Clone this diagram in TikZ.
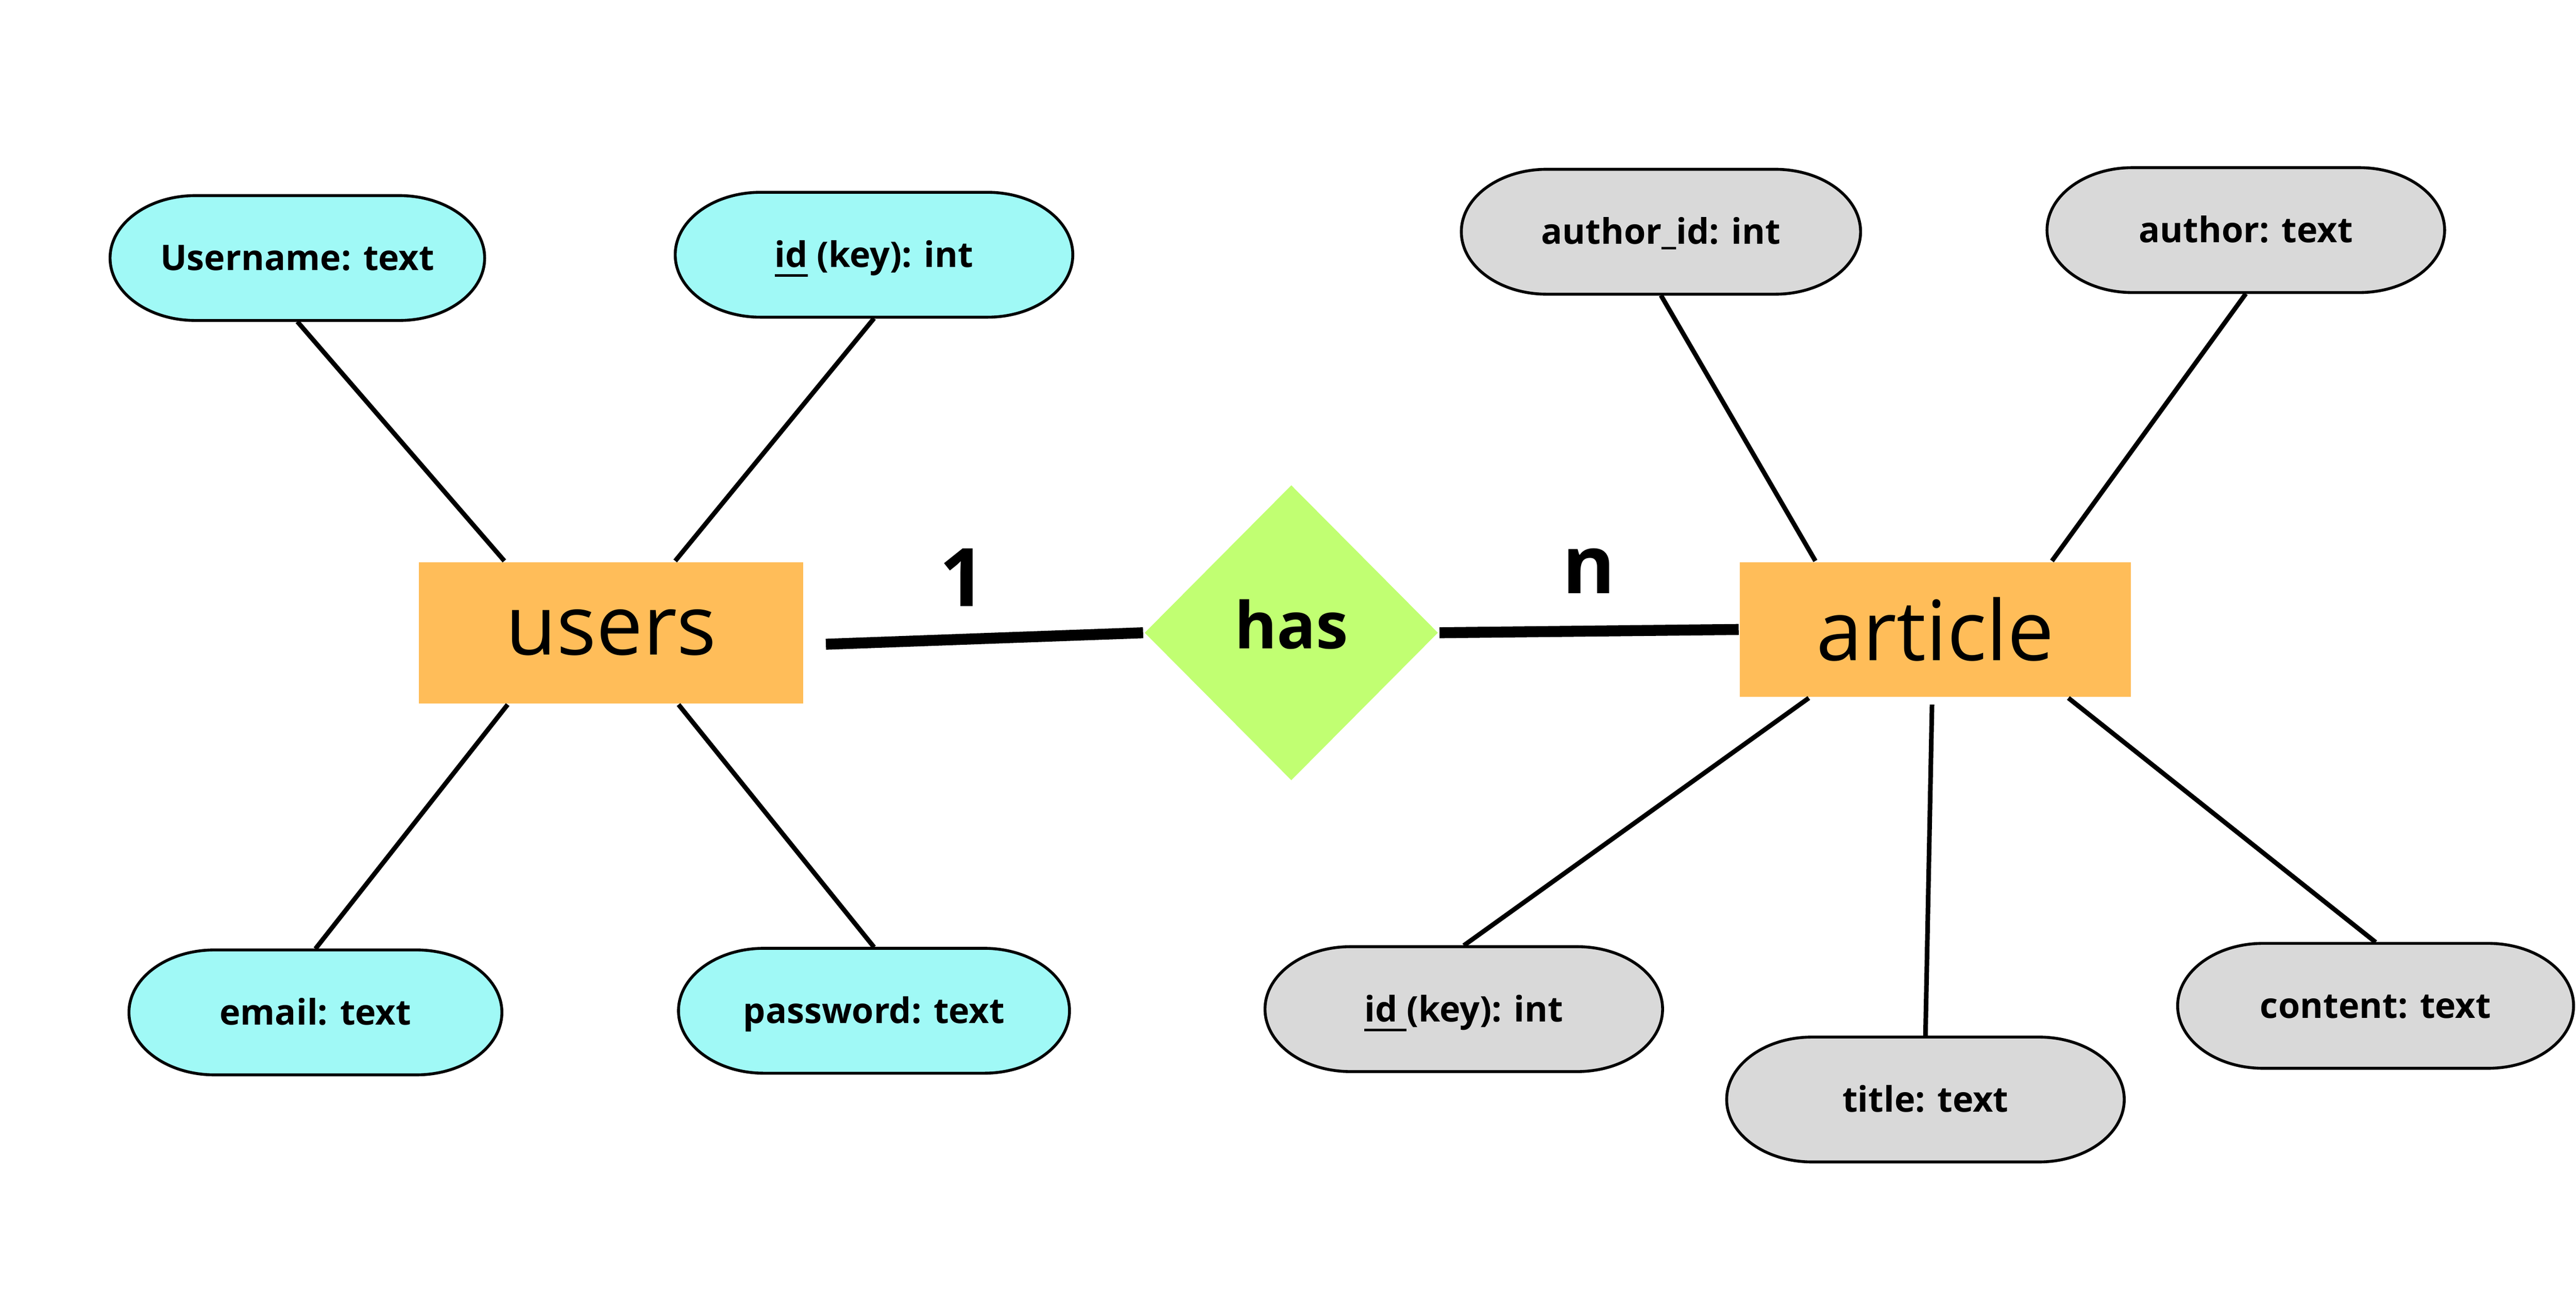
\documentclass[tikz,border=0pt]{standalone}
\usepackage{fontspec}
\setmainfont{Open Sans}
\usepackage{tikz}
\usetikzlibrary{positioning, shapes.geometric, calc}
\definecolor{attrcyan}{HTML}{A0F9F6}
\definecolor{attrgray}{HTML}{D9D9D9}
\definecolor{entorange}{HTML}{FFBD59}
\definecolor{relgreen}{HTML}{C1FF72}
\newcommand{\keyattr}[1]{\underline{#1}}
% attribute oval: name, x, y, width, colour, text
\newcommand{\attrbox}[6]{%
    \filldraw[line width=0.5pt, fill=#5] (#2-#4/2+0.52, #3+0.38) -- (#2+#4/2-0.52, #3+0.38)
        arc[start angle=90, end angle=-90, x radius=0.52, y radius=0.38]
        -- (#2-#4/2+0.52, #3-0.38)
        arc[start angle=270, end angle=90, x radius=0.52, y radius=0.38] -- cycle;
    \node[attr, minimum width=#4cm] (#1) at (#2,#3) {#6};
}
\tikzset{
    attr/.style={minimum height=0.76cm, inner sep=0pt, text height=0.75em, text depth=0.32em, font=\bfseries\fontsize{6.1}{7}\selectfont},
    entity/.style={fill=entorange, inner sep=0pt, font=\fontsize{14.4}{16}\selectfont},
    link/.style={line width=0.8pt},
    heavy/.style={line width=1.9pt},
    card/.style={anchor=base, inner sep=0pt, font=\bfseries\fontsize{14}{16}\selectfont}
}

\begin{document}
\begin{tikzpicture}
    \useasboundingbox (0,0) rectangle (15.68,7.84);
    % Entities
    \node[entity, minimum width=2.34cm, minimum height=0.86cm] (users) at (3.72,3.99) {users};
    \node[entity, minimum width=2.38cm, minimum height=0.82cm] (article) at (11.78,4.01) {article};
    % Relationship
    \node[diamond, fill=relgreen, minimum width=1.79cm, minimum height=1.80cm, inner sep=0pt, text depth=3.1pt, font=\bfseries\fontsize{11.2}{13}\selectfont] (has) at (7.86,3.99) {has};
    % users attributes
    \attrbox{uname}{1.81}{6.27}{2.28}{attrcyan}{Username: text}
    \attrbox{uid}{5.32}{6.29}{2.42}{attrcyan}{\keyattr{id} (key): int}
    \attrbox{email}{1.92}{1.68}{2.27}{attrcyan}{email: text}
    \attrbox{pass}{5.32}{1.69}{2.38}{attrcyan}{password: text}
    % article attributes
    \attrbox{authid}{10.11}{6.43}{2.43}{attrgray}{author\_id: int}
    \attrbox{author}{13.67}{6.44}{2.42}{attrgray}{author: text}
    \attrbox{aid}{8.91}{1.70}{2.42}{attrgray}{\keyattr{id\ }(key): int}
    \attrbox{title}{11.72}{1.15}{2.42}{attrgray}{title: text}
    \attrbox{content}{14.46}{1.72}{2.41}{attrgray}{content: text}
    % users connectors
    \draw[link] (uname.south) -- ([xshift=-6.5mm]users.north);
    \draw[link] (uid.south) -- ([xshift=3.9mm]users.north);
    \draw[link] (email.north) -- ([xshift=-6.3mm]users.south);
    \draw[link] (pass.north) -- ([xshift=4.1mm]users.south);
    % article connectors
    \draw[link] (authid.south) -- ([xshift=-7.3mm]article.north);
    \draw[link] (author.south) -- ([xshift=7.1mm]article.north);
    \draw[link] ([xshift=-7.7mm]article.south) -- (aid.north);
    \draw[link] ([xshift=-0.2mm,yshift=-0.4mm]article.south) -- (title.north);
    \draw[link] ([xshift=8.1mm]article.south) -- (content.north);
    % Relationship lines
    \draw[heavy] ([xshift=1.3mm,yshift=-0.7mm]users.east) -- (has.west);
    \draw[heavy] (has.east) -- (article.west);
    % Cardinality
    \node[card] (one) at (5.86,4.15) {1};
    \node[card] (many) at (9.67,4.23) {n};
\end{tikzpicture}
\end{document}
